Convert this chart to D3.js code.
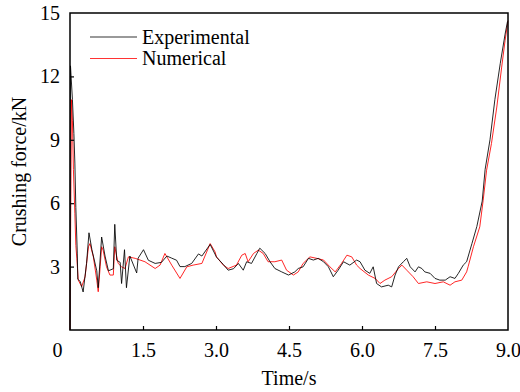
<!DOCTYPE html>
<html>
<head>
<meta charset="utf-8">
<script src="https://cdn.jsdelivr.net/npm/d3@7"></script>
<style>
  body { margin: 0; background: #fff; }
  svg { display: block; }
  text { font-family: "Liberation Serif", "Times New Roman", serif; fill: #000; }
</style>
</head>
<body>
<svg id="chart" width="520" height="392"></svg>
<script>
// ─── Data ────────────────────────────────────────────────────────────────────

const expTime = [0, 0.01, 0.05, 0.08, 0.10, 0.12, 0.15, 0.16, 0.21, 0.27, 0.34, 0.39, 0.45, 0.55, 0.58,
    0.65, 0.72, 0.79, 0.89, 0.92, 0.96, 1.03, 1.06, 1.12, 1.16, 1.23, 1.37, 1.40, 1.51, 1.61, 1.75,
    1.88, 1.99, 2.09, 2.19, 2.26, 2.36, 2.50, 2.64, 2.71, 2.88, 3.01, 3.15, 3.25, 3.36, 3.46, 3.56,
    3.63, 3.73, 3.84, 3.90, 4.01, 4.11, 4.21, 4.35, 4.49, 4.62, 4.69, 4.79, 4.90, 5.00, 5.10, 5.21,
    5.31, 5.41, 5.51, 5.62, 5.75, 5.89, 5.96, 6.06, 6.16, 6.23, 6.30, 6.40, 6.54, 6.61, 6.68, 6.75,
    6.85, 6.92, 6.99, 7.09, 7.16, 7.23, 7.29, 7.40, 7.50, 7.60, 7.71, 7.81, 7.91, 7.98, 8.08, 8.15,
    8.26, 8.36, 8.47, 8.53, 8.63, 8.73, 8.84, 8.94, 8.99];
const expForce = [0, 12.5, 10.9, 9.3, 7.9, 5.8, 3.6, 2.4, 2.3, 1.8, 3.15, 4.6, 3.8, 2.8, 2.0,
    4.4, 3.5, 2.8, 2.9, 5.0, 3.3, 3.2, 2.2, 3.8, 2.0, 3.5, 2.7, 3.4, 3.8, 3.3, 3.15,
    3.2, 3.5, 3.4, 3.3, 3.0, 3.0, 3.15, 3.6, 3.5, 4.05, 3.45, 3.1, 2.83, 2.9, 3.15, 2.83,
    3.23, 3.15, 3.62, 3.87, 3.62, 3.23, 2.91, 2.75, 2.6, 2.75, 2.91, 2.99, 3.39, 3.31, 3.39, 3.23,
    2.99, 2.52, 2.83, 3.23, 3.07, 3.31, 3.23, 2.83, 2.68, 2.99, 2.2, 2.04, 2.12, 2.04, 2.6, 2.99,
    3.23, 3.39, 2.99, 2.75, 2.99, 2.91, 2.75, 2.68, 2.44, 2.36, 2.36, 2.52, 2.44, 2.68, 3.07, 3.23,
    4.1, 4.9, 6.1, 7.6, 9.0, 10.9, 12.6, 14.0, 14.6];

const numTime = [0, 0.03, 0.05, 0.07, 0.10, 0.12, 0.14, 0.17, 0.24, 0.31, 0.38, 0.41, 0.48, 0.55, 0.58,
    0.62, 0.65, 0.68, 0.75, 0.82, 0.89, 0.92, 0.99, 1.06, 1.13, 1.20, 1.34, 1.54, 1.75, 1.85, 1.95,
    2.09, 2.26, 2.40, 2.53, 2.71, 2.88, 2.98, 3.01, 3.15, 3.25, 3.42, 3.53, 3.60, 3.66, 3.77, 3.87,
    3.97, 4.07, 4.21, 4.35, 4.45, 4.59, 4.69, 4.79, 4.93, 5.07, 5.21, 5.34, 5.45, 5.58, 5.69, 5.79,
    5.89, 5.96, 6.13, 6.27, 6.37, 6.47, 6.61, 6.75, 6.82, 6.92, 7.05, 7.16, 7.33, 7.50, 7.67, 7.81,
    7.91, 8.05, 8.15, 8.18, 8.29, 8.42, 8.49, 8.56, 8.66, 8.77, 8.87, 8.94, 9.0];
const numForce = [0, 10.9, 9.9, 7.6, 5.5, 4.0, 3.4, 2.36, 2.05, 2.52, 3.94, 4.09, 3.46, 2.36, 1.81,
    2.99, 3.94, 3.78, 2.99, 2.6, 2.6, 3.94, 3.15, 2.99, 2.91, 3.46, 3.39, 3.23, 2.91, 3.07, 3.62,
    3.07, 2.44, 2.99, 3.07, 3.15, 4.09, 3.7, 3.46, 3.07, 2.91, 3.07, 3.54, 3.62, 3.23, 3.62, 3.78,
    3.62, 3.23, 3.23, 3.31, 2.83, 2.6, 2.75, 3.15, 3.46, 3.39, 3.31, 2.99, 2.75, 3.15, 3.54, 3.46,
    3.07, 2.91, 2.6, 2.44, 2.2, 2.36, 2.52, 2.91, 3.07, 2.83, 2.52, 2.2, 2.28, 2.2, 2.28, 2.12,
    2.28, 2.36, 2.75, 2.99, 3.94, 4.88, 6.14, 7.56, 8.82, 10.55, 12.44, 13.7, 14.64];

const xTicks = [0, 1.5, 3.0, 4.5, 6.0, 7.5, 9.0];
const yTicks = [3, 6, 9, 12, 15];

const seriesNames = ["Experimental", "Numerical"];
const seriesColors = ["#000000", "#ff0000"];

const SERIF = '"Liberation Serif", "Times New Roman", serif';

// ─── Layout ──────────────────────────────────────────────────────────────────

const margin = { top: 13, right: 12, bottom: 62, left: 70 };
const width = 520, height = 392;
const innerW = width - margin.left - margin.right;
const innerH = height - margin.top - margin.bottom;

const svg = d3.select("#chart");
const g = svg.append("g").attr("transform", `translate(${margin.left},${margin.top})`);

const x = d3.scaleLinear().domain([0, 9]).range([0, innerW]);
const y = d3.scaleLinear().domain([0, 15]).range([innerH, 0]);

// curves
const series = [
    d3.zip(expTime, expForce),
    d3.zip(numTime, numForce)
];

const line = d3.line()
    .x(d => x(d[0]))
    .y(d => y(d[1]));

// red first, black on top
[1, 0].forEach(i => {
    g.append("path")
        .datum(series[i])
        .attr("fill", "none")
        .attr("stroke", seriesColors[i])
        .attr("stroke-width", 1)
        .attr("stroke-opacity", 0.85)
        .attr("d", line);
});

// frame
g.append("rect")
    .attr("x", 0).attr("y", 0)
    .attr("width", innerW).attr("height", innerH)
    .attr("fill", "none")
    .attr("stroke", "#000")
    .attr("stroke-width", 1.5);

// axes, ticks pointing inward
const xAxis = g.append("g")
    .attr("transform", `translate(0,${innerH})`)
    .call(d3.axisBottom(x).tickValues(xTicks)
        .tickFormat(d => d === 0 ? "0" : d3.format(".1f")(d))
        .tickSizeInner(-4).tickSizeOuter(0).tickPadding(13));

const yAxis = g.append("g")
    .call(d3.axisLeft(y).tickValues(yTicks)
        .tickSizeInner(-4).tickSizeOuter(0).tickPadding(10));

[xAxis, yAxis].forEach(ax => {
    ax.attr("font-family", SERIF).attr("font-size", 20);
    ax.select(".domain").remove();
    ax.selectAll(".tick line").attr("stroke", "#000").attr("stroke-width", 1.2);
    ax.selectAll(".tick text").style("font-family", SERIF);
});
xAxis.selectAll(".tick line").attr("display", d => (d === 0 || d === 9) ? "none" : null);
xAxis.selectAll(".tick text").attr("dx", d => d === 0 ? -13 : 0);
yAxis.selectAll(".tick line").attr("display", d => d === 15 ? "none" : null);

// axis titles
svg.append("text")
    .attr("x", 289)
    .attr("y", 385)
    .attr("text-anchor", "middle")
    .attr("font-size", 20)
    .style("font-family", SERIF)
    .text("Time/s");

svg.append("text")
    .attr("transform", `translate(26,${margin.top + innerH / 2}) rotate(-90)`)
    .attr("text-anchor", "middle")
    .attr("font-size", 20)
    .style("font-family", SERIF)
    .text("Crushing force/kN");

// legend
const legend = svg.append("g").attr("transform", "translate(90,37)");
seriesNames.forEach((name, i) => {
    const row = legend.append("g").attr("transform", `translate(0,${i * 21.5})`);
    row.append("line")
        .attr("x1", 0).attr("x2", 47)
        .attr("y1", 0).attr("y2", 0)
        .attr("stroke", seriesColors[i])
        .attr("stroke-opacity", 0.8)
        .attr("stroke-width", 1.2);
    row.append("text")
        .attr("x", 52)
        .attr("y", 0)
        .attr("dy", "0.33em")
        .attr("font-size", 20)
        .style("font-family", SERIF)
        .text(name);
});
</script>
</body>
</html>
